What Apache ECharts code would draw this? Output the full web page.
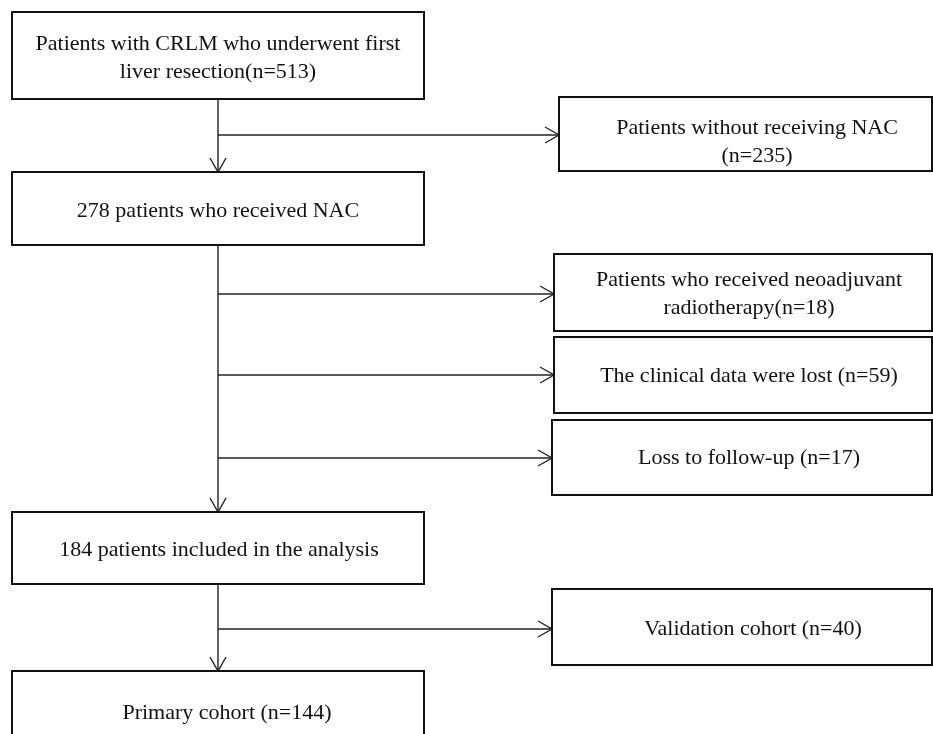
<!DOCTYPE html>
<html>
<head>
<meta charset="utf-8">
<title>Patient flow</title>
<script src="https://cdn.jsdelivr.net/npm/echarts@6/dist/echarts.min.js"></script>
<style>
  html, body { margin: 0; padding: 0; background: #fff; }
  #main { width: 933px; height: 734px; }
</style>
</head>
<body>
<div id="main"></div>
<script>
// box texts, in drawing order
var boxLabels = [
  'Patients with CRLM who underwent first\nliver resection(n=513)',
  'Patients without receiving NAC\n(n=235)',
  '278 patients who received NAC',
  'Patients who received neoadjuvant\nradiotherapy(n=18)',
  'The clinical data were lost (n=59)',
  'Loss to follow-up (n=17)',
  '184 patients included in the analysis',
  'Validation cohort (n=40)',
  'Primary cohort (n=144)'
];

// layout: box corners and text centre, in page units
var boxLayout = [
  [12, 12, 424, 99, 218, 58],
  [559, 97, 932, 171, 757, 142],
  [12, 172, 424, 245, 218, 211],
  [554, 254, 932, 331, 749, 294.5],
  [554, 337, 932, 413, 749, 376],
  [552, 420, 932, 495, 749, 458],
  [12, 512, 424, 584, 219, 550],
  [552, 589, 932, 665, 753, 629],
  [12, 671, 424, 760, 227, 713]
];

// connectors: from point -> arrow point
var arrowLayout = [
  [218, 100, 218, 172],
  [218, 135, 559, 135],
  [218, 245, 218, 512],
  [218, 294, 554, 294],
  [218, 375, 554, 375],
  [218, 458, 552, 458],
  [218, 584, 218, 671],
  [218, 629, 552, 629]
];

var chart = echarts.init(document.getElementById('main'));

function renderBox(params, api) {
  var p0 = api.coord([api.value(0), api.value(1)]);
  var p1 = api.coord([api.value(2), api.value(3)]);
  var t = api.coord([api.value(4), api.value(5)]);
  return {
    type: 'group',
    children: [{
      type: 'rect',
      shape: { x: p0[0], y: p0[1], width: p1[0] - p0[0], height: p1[1] - p0[1] },
      style: { fill: '#fff', stroke: '#111', lineWidth: 2 }
    }, {
      type: 'text',
      x: t[0],
      y: t[1],
      style: {
        text: boxLabels[params.dataIndex],
        font: '22px "Liberation Serif", "Times New Roman", serif',
        fill: '#111',
        align: 'center',
        verticalAlign: 'middle',
        lineHeight: 28
      }
    }]
  };
}

function renderArrow(params, api) {
  var a = api.coord([api.value(0), api.value(1)]);
  var b = api.coord([api.value(2), api.value(3)]);
  var dx = b[0] - a[0], dy = b[1] - a[1];
  var len = Math.sqrt(dx * dx + dy * dy);
  var ux = dx / len, uy = dy / len;
  var hl = 14, hw = 8; // head length / half width
  var bx = b[0] - ux * hl, by = b[1] - uy * hl;
  return {
    type: 'group',
    children: [{
      type: 'line',
      shape: { x1: a[0], y1: a[1], x2: b[0], y2: b[1] },
      style: { stroke: '#222', lineWidth: 1.4 }
    }, {
      type: 'polyline',
      shape: { points: [[bx - uy * hw, by + ux * hw], [b[0], b[1]], [bx + uy * hw, by - ux * hw]] },
      style: { stroke: '#222', lineWidth: 1.4, fill: null }
    }]
  };
}

var option = {
  animation: false,
  backgroundColor: '#fff',
  grid: { left: 0, right: 0, top: 0, bottom: 0 },
  xAxis: { type: 'value', min: 0, max: 933, show: false },
  yAxis: { type: 'value', min: 0, max: 734, inverse: true, show: false },
  series: [{
    type: 'custom',
    name: 'arrows',
    renderItem: renderArrow,
    data: arrowLayout,
    silent: true
  }, {
    type: 'custom',
    name: 'boxes',
    renderItem: renderBox,
    data: boxLayout,
    silent: true,
    z: 3
  }]
};
chart.setOption(option);
</script>
</body>
</html>
